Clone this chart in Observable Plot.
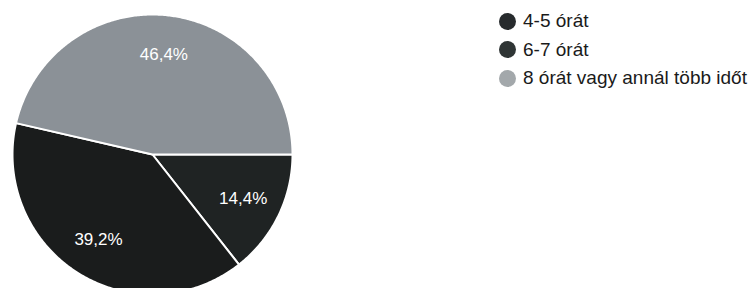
<!DOCTYPE html>
<html>
<head>
<meta charset="utf-8">
<script src="https://cdn.jsdelivr.net/npm/d3@7"></script>
<script src="https://cdn.jsdelivr.net/npm/@observablehq/plot@0.6"></script>
<style>
  html, body { margin: 0; padding: 0; background: #ffffff; }
  #wrap { position: relative; width: 748px; height: 288px; overflow: hidden; }
  #legend { position: absolute; left: 499px; top: 7px; font-family: "Liberation Sans", Arial, sans-serif; font-size: 19px; font-weight: normal; color: #1a1a1a; }
  .row { display: flex; align-items: center; height: 28.5px; white-space: nowrap; }
  .dot { width: 17px; height: 17px; border-radius: 50%; margin-right: 7px; flex: none; }
</style>
</head>
<body>
<div id="wrap"></div>
<script>
const categories = ["4-5 órát", "6-7 órát", "8 órát vagy annál több időt"];
const shares = [14.4, 39.2, 46.4];
const sliceColors = ["#1f2323", "#1a1c1c", "#8b9197"];
const legendColors = ["#272b2d", "#2f3535", "#a3a8ab"];

const data = categories.map((c, i) => ({category: c, value: shares[i]}));
const pie = d3.pie().sort(null).value(d => d.value)
  .startAngle(Math.PI / 2).endAngle(Math.PI / 2 + 2 * Math.PI);
const arcs = pie(data);

const outline = arcs.flatMap(a => {
  const n = Math.max(2, Math.ceil((a.endAngle - a.startAngle) / 0.01));
  const pts = [{category: a.data.category, x: 0, y: 0}];
  for (let i = 0; i <= n; i++) {
    const ang = a.startAngle + (a.endAngle - a.startAngle) * i / n;
    pts.push({category: a.data.category, x: Math.sin(ang), y: Math.cos(ang)});
  }
  pts.push({category: a.data.category, x: 0, y: 0});
  return pts;
});

const fmt = v => d3.format(".1f")(v).replace(".", ",") + "%";
const labelR = 0.72;

const chart = Plot.plot({
  width: 748,
  height: 288,
  margin: 0,
  style: {fontFamily: "'Liberation Sans', Arial, sans-serif", background: "transparent"},
  x: {domain: [-1, 1], range: [12, 292], axis: null},
  y: {domain: [-1, 1], range: [294, 14], axis: null},
  color: {domain: categories, range: sliceColors},
  marks: [
    Plot.line(outline, {x: "x", y: "y", z: "category", fill: "category", stroke: "#ffffff", strokeWidth: 2, strokeLinejoin: "round"}),
    Plot.text(arcs, {
      x: d => labelR * Math.sin((d.startAngle + d.endAngle) / 2),
      y: d => labelR * Math.cos((d.startAngle + d.endAngle) / 2),
      text: d => fmt(d.data.value),
      fill: "#ffffff",
      fontSize: 17
    })
  ]
});

const wrap = document.getElementById("wrap");
wrap.appendChild(chart);

const legend = document.createElement("div");
legend.id = "legend";
categories.forEach((c, i) => {
  const row = document.createElement("div");
  row.className = "row";
  const dot = document.createElement("span");
  dot.className = "dot";
  dot.style.background = legendColors[i];
  const label = document.createElement("span");
  label.textContent = c;
  row.appendChild(dot);
  row.appendChild(label);
  legend.appendChild(row);
});
wrap.appendChild(legend);
</script>
</body>
</html>
